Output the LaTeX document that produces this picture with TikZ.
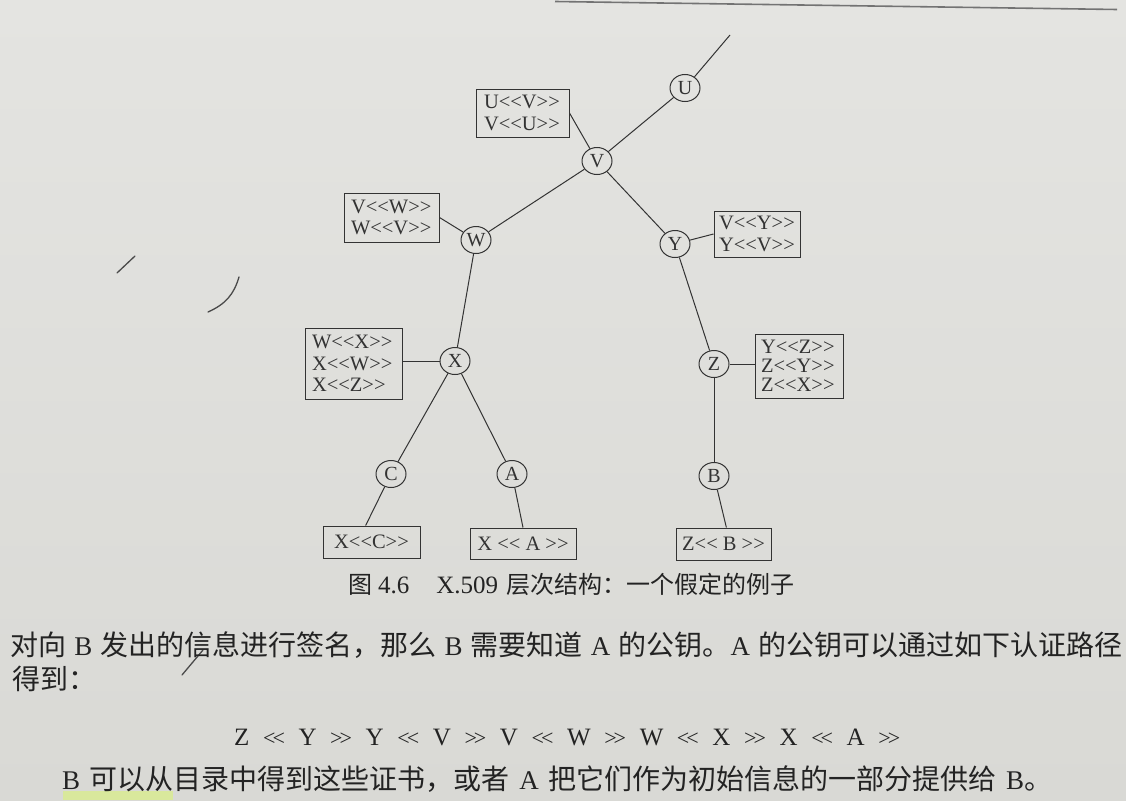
\documentclass[tikz,border=0pt]{standalone}
\usepackage{fontspec}
\setmainfont{Liberation Serif}[Ligatures=TeXOff]
\newfontfamily\cjk{Noto Sans CJK SC}
\usetikzlibrary{shapes.geometric,calc}
\definecolor{pagebgtop}{HTML}{E4E4E1}
\definecolor{pagebgbot}{HTML}{D9D9D5}
\definecolor{ink}{HTML}{333333}
\definecolor{textink}{HTML}{232323}
\definecolor{penink}{HTML}{4A4A4A}
\definecolor{hilite}{HTML}{D9E89C}
\newcommand\myll{{\fontsize{22}{22}\selectfont<\kern-3pt<}}
\newcommand\mygg{{\fontsize{22}{22}\selectfont>\kern-3pt>}}
\newcommand\lat[1]{{\rmfamily\fontsize{27}{27}\selectfont #1}}
\tikzset{
  ca/.style={ellipse, draw=ink, line width=1pt, minimum width=30pt, minimum height=27pt,
    inner sep=0pt, text=ink, font=\fontsize{20}{20}\selectfont},
  cert/.style={draw=ink, line width=1pt, inner sep=0pt, align=left, text=ink,
    font=\fontsize{20.5}{21.5}\selectfont},
  certone/.style={draw=ink, line width=1pt, inner sep=0pt, align=center, text=ink,
    font=\fontsize{20.5}{21.5}\selectfont},
  link/.style={draw=ink, line width=1pt},
  bodytext/.style={anchor=west, inner sep=0pt, text=textink, font=\fontsize{25}{25}\selectfont},
  pen/.style={draw=penink, line width=1.3pt, line cap=round}
}
\begin{document}
\begin{tikzpicture}[x=1pt,y=-1pt]
\shade[top color=pagebgtop, bottom color=pagebgbot] (0,0) rectangle (1126,800);
\useasboundingbox (0,0) rectangle (1126,800);
% header rule
\draw[line width=1.6pt, color=black!55] (555,1.5) -- (1117,9.5);
% highlighter mark
\fill[hilite] (63,791) rectangle (173,800);
% pen marks
\draw[pen] (117,273) -- (135,256);
\draw[pen] (208,312) .. controls (226,304) and (234,294) .. (239,277);
\draw[pen] (182,675) -- (203,650);

% CA nodes
\node[ca] (U) at (685,88) {U};
\node[ca] (V) at (597,161) {V};
\node[ca] (W) at (476,240) {W};
\node[ca] (Y) at (675,244) {Y};
\node[ca] (X) at (455,361) {X};
\node[ca] (Z) at (714,364) {Z};
\node[ca] (C) at (391,474) {C};
\node[ca] (A) at (512,474) {A};
\node[ca] (B) at (714,476) {B};
\coordinate (top) at (730,35);

% certificate boxes
\node[cert, minimum width=93pt, minimum height=48pt, text width=77pt] (uv) at (522.5,113) {U<<V>>\\V<<U>>};
\node[cert, minimum width=95pt, minimum height=49pt, text width=81pt] (vw) at (391.5,217.5) {V<<W>>\\W<<V>>};
\node[cert, minimum width=86pt, minimum height=46pt, text width=76pt] (vy) at (757,234) {V<<Y>>\\Y<<V>>};
\node[cert, minimum width=97pt, minimum height=71pt, text width=83pt] (wx) at (353.5,363.5) {W<<X>>\\X<<W>>\\X<<Z>>};
\node[cert, minimum width=88pt, minimum height=64pt, text width=76pt,
      font=\fontsize{20.5}{19}\selectfont] (yz) at (799,366) {Y<<Z>>\\Z<<Y>>\\Z<<X>>};
\node[certone, minimum width=97pt, minimum height=32pt] (xc) at (371.5,542) {X<<C>>};
\node[certone, minimum width=106pt, minimum height=31pt] (xa) at (523,543.5) {X << A >>};
\node[certone, minimum width=95pt, minimum height=32pt] (zb) at (723.5,544) {Z<< B >>};

% tree links
\draw[link] (top) -- (U);
\draw[link] (U) -- (V);
\draw[link] (V) -- (W);
\draw[link] (V) -- (Y);
\draw[link] (W) -- (X);
\draw[link] (Y) -- (Z);
\draw[link] (X) -- (C);
\draw[link] (X) -- (A);
\draw[link] (Z) -- (B);
% box links
\draw[link] (uv.east) -- (V);
\draw[link] (vw.east) -- (W);
\draw[link] (Y) -- (vy.west);
\draw[link] (X) -- (X -| wx.east);
\draw[link] (Z) -- (Z -| yz.west);
\draw[link] (C) -- ($(xc.north west)!0.44!(xc.north east)$);
\draw[link] (A) -- (xa.north);
\draw[link] (B) -- ($(zb.north west)!0.53!(zb.north east)$);

% caption
\node[anchor=west, inner sep=0pt, text=textink, font=\fontsize{25}{25}\selectfont] (cap) at (348,584)
  {{\cjk\fontsize{24}{24}\selectfont 图}\hspace{6pt}4.6\hspace{27pt}X.509\hspace{8pt}{\cjk\fontsize{24}{24}\selectfont 层次结构：一个假定的例子}};

% body text
\node[bodytext] (l1) at (10,645) {\makebox[1112pt][s]{\cjk\fontsize{28}{28}\selectfont 对向 \lat{B} 发出的信息进行签名，那么 \lat{B} 需要知道 \lat{A} 的公钥。\lat{A} 的公钥可以通过如下认证路径}};
\node[bodytext] (l2) at (12,679) {{\cjk\fontsize{28}{28}\selectfont 得到：}};
\node[bodytext] (l3) at (234,737) {\makebox[666pt][s]{Z \myll{} Y \mygg{} Y \myll{} V \mygg{} V \myll{} W \mygg{} W \myll{} X \mygg{} X \myll{} A \mygg}};
\node[bodytext] (l4) at (62,779) {\makebox[990pt][s]{\lat{B} {\cjk\fontsize{28}{28}\selectfont 可以从目录中得到这些证书，或者} \lat{A} {\cjk\fontsize{28}{28}\selectfont 把它们作为初始信息的一部分提供给} \lat{B}{\cjk\fontsize{28}{28}\selectfont 。}}};
\end{tikzpicture}
\end{document}
